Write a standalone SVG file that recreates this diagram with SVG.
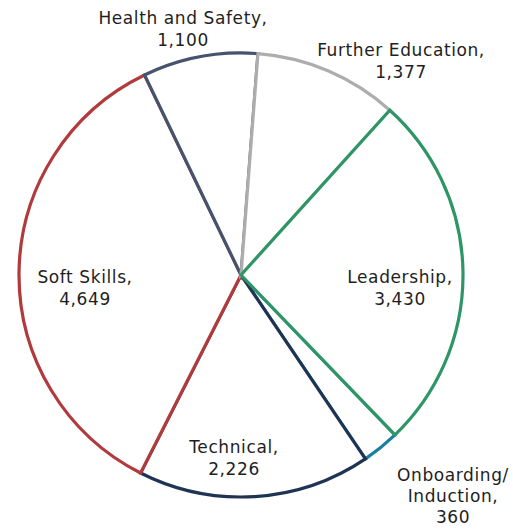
<svg xmlns="http://www.w3.org/2000/svg" width="513" height="529" viewBox="0 0 513 529">
<style>
.slice{fill:#ffffff;stroke-width:3.2;stroke-linejoin:miter}
.lbl{font-family:"DejaVu Sans","Liberation Sans",sans-serif;font-size:17px;letter-spacing:0.6px;fill:#1e1e1e;text-anchor:middle}
</style>
<rect width="513" height="529" fill="#ffffff"/>
<g id="connectors"></g>
<g id="onboarding"><path class="slice" stroke="#1a7fa0" d="M241,275 L395.02,434.88 A222,222 0 0 1 365.41,458.86 Z"/></g>
<g id="technical"><path class="slice" stroke="#1f3354" d="M241,275 L365.41,458.86 A222,222 0 0 1 140.56,472.98 Z"/></g>
<g id="soft-skills"><path class="slice" stroke="#b03a3c" d="M241,275 L140.56,472.98 A222,222 0 0 1 144.55,75.04 Z"/></g>
<g id="health-safety"><path class="slice" stroke="#45536c" d="M241,275 L144.55,75.04 A222,222 0 0 1 257.95,53.65 Z"/></g>
<g id="further-education"><path class="slice" stroke="#adadad" d="M241,275 L257.95,53.65 A222,222 0 0 1 389.84,110.28 Z"/></g>
<g id="leadership"><path class="slice" stroke="#2e9566" d="M241,275 L389.84,110.28 A222,222 0 0 1 395.02,434.88 Z"/></g>
<g id="labels">
<text class="lbl" x="183" y="24">Health and Safety,</text>
<text class="lbl" x="183" y="46">1,100</text>
<text class="lbl" x="401" y="56">Further Education,</text>
<text class="lbl" x="401" y="78">1,377</text>
<text class="lbl" x="85" y="283">Soft Skills,</text>
<text class="lbl" x="85" y="305">4,649</text>
<text class="lbl" x="400" y="283">Leadership,</text>
<text class="lbl" x="400" y="305">3,430</text>
<text class="lbl" x="234" y="453">Technical,</text>
<text class="lbl" x="234" y="475">2,226</text>
<text class="lbl" x="453" y="481">Onboarding/</text>
<text class="lbl" x="453" y="502">Induction,</text>
<text class="lbl" x="453" y="523">360</text>
</g>
</svg>
